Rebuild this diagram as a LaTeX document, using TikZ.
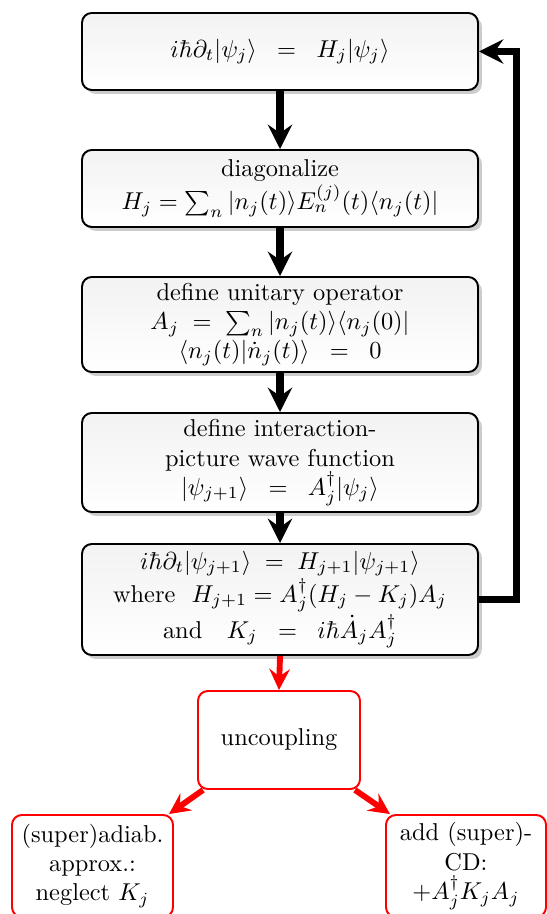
\documentclass[tikz,border=0pt]{standalone}
\usetikzlibrary{arrows.meta,shadows,calc}
\begin{document}
\begin{tikzpicture}[x=0.41pt,y=-0.41pt,
  flow/.style={draw=black, line width=0.8pt, rounded corners=4pt, align=center,
    inner sep=2pt, minimum width=162.36pt, top color=black!5, bottom color=white,
    drop shadow={shadow xshift=1.6pt,shadow yshift=-1.6pt,fill=black!40}},
  redbox/.style={draw=red, line width=0.8pt, rounded corners=4pt, align=center,
    inner sep=2pt, fill=white},
  blk/.style={line width=2.9pt, -{Stealth[length=10pt,width=10pt,inset=3.5pt]}},
  redarr/.style={red, line width=2.4pt, -{Stealth[length=8.6pt,width=8.4pt,inset=3pt]}}]
\useasboundingbox (0,0) rectangle (547,914);

\node[flow, minimum height=31.57pt] (B1) at (280,51.5)
  {$i\hbar\partial_t|\psi_j\rangle\;\;=\;\;H_j|\psi_j\rangle$};
\node[flow, minimum height=31.57pt] (B2) at (280,188.5)
  {diagonalize\\$H_j=\sum_n|n_j(t)\rangle E_n^{(j)}(t)\langle n_j(t)|$};
\node[flow, minimum height=38.95pt] (B3) at (280,324.5)
  {define unitary operator\\$A_j\;=\;\sum_n|n_j(t)\rangle\langle n_j(0)|$\\$\langle n_j(t)|\dot n_j(t)\rangle\;\;=\;\;0$};
\node[flow, minimum height=40.59pt] (B4) at (280,462.5)
  {define interaction-\\picture wave function\\$|\psi_{j+1}\rangle\;\;=\;\;A_j^\dagger|\psi_j\rangle$};
\node[flow, minimum height=45.51pt] (B5) at (280,599.5)
  {$i\hbar\partial_t|\psi_{j+1}\rangle\;=\;H_{j+1}|\psi_{j+1}\rangle$\\
   where\ \ $H_{j+1}=A_j^\dagger(H_j-K_j)A_j$\\
   and\quad$K_j\;\;=\;\;i\hbar\dot A_jA_j^\dagger$};

\node[redbox, minimum width=66.42pt, minimum height=40.18pt] (U) at (279,740) {uncoupling};
\node[redbox, minimum width=66.0pt, minimum height=41.82pt] (L) at (92.5,866)
  {(super)adiab.\\approx.:\\neglect $K_j$};
\node[redbox, minimum width=65.6pt, minimum height=41.82pt] (R) at (466,866)
  {add (super)-\\CD:\\$+A_j^\dagger K_jA_j$};

\draw[blk] (B1.south) -- (B2.north);
\draw[blk] (B2.south) -- (B3.north);
\draw[blk] (B3.south) -- (B4.north);
\draw[blk] (B4.south) -- (B5.north);
\coordinate (fb) at (516.5,599.5);
\draw[blk] (B5.east) -- (fb) |- (B1.east);

\draw[redarr] (B5.south) -- (U.north);
\draw[redarr] ($(U.south west)+(6,0)$) -- ($(L.north east)+(-5,0)$);
\draw[redarr] ($(U.south east)+(-6,0)$) -- ($(R.north west)+(5,0)$);
\end{tikzpicture}
\end{document}
